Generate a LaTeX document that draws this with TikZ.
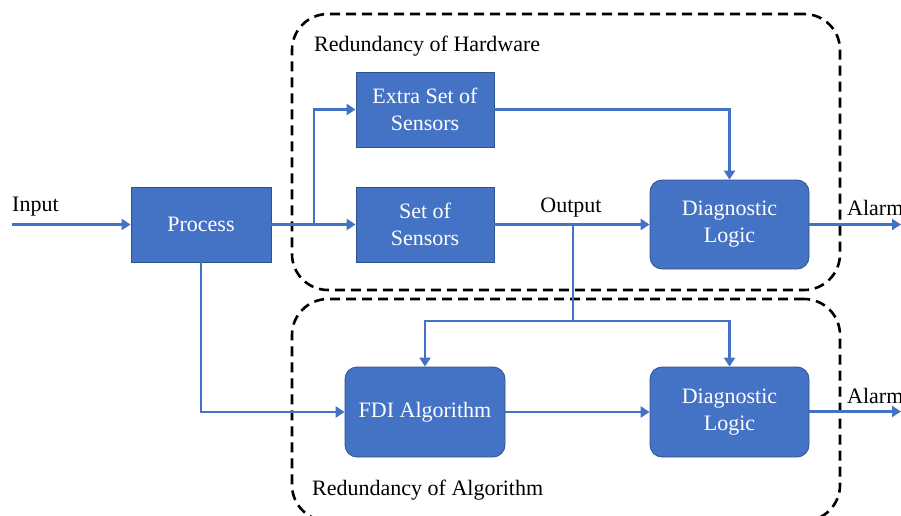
\documentclass[tikz,border=0pt]{standalone}
\usepackage{fontspec}
\setmainfont{Liberation Serif}
\usetikzlibrary{arrows.meta}
\definecolor{myblue}{HTML}{4472C4}
\definecolor{edgeblue}{HTML}{2F528F}
\tikzset{
  blk/.style={draw=edgeblue, line width=0.8pt, fill=myblue, text=white, align=center,
    font=\fontsize{22}{27}\selectfont, inner sep=0pt},
  sqb/.style={blk, minimum width=138pt, minimum height=75pt},
  rnd/.style={blk, rounded corners=12pt, minimum width=159pt, minimum height=89pt},
  lbl/.style={font=\fontsize{22}{26}\selectfont, inner sep=0pt},
  wire/.style={draw=myblue, line width=2.6pt},
  arr/.style={wire, -{Triangle[length=9pt,width=11pt]}},
  grp/.style={draw=black, line width=2.6pt, dash pattern=on 10pt off 6pt, rounded corners=36pt,
    minimum width=548pt, inner sep=0pt},
}
\begin{document}
\begin{tikzpicture}[x=1pt,y=-1pt]
\useasboundingbox (0,0) rectangle (901,516);
\clip (0,0) rectangle (901,516);
% group boxes
\node[grp, minimum height=276pt] (hw) at (566,152) {};
\node[grp, minimum height=222pt] (alg) at (566,410) {};
\node[lbl, anchor=west] (hwl) at (314,46) {Redundancy of Hardware};
\node[lbl, anchor=west] (algl) at (312,490) {Redundancy of Algorithm};
% blocks
\node[sqb, minimum width=140pt] (proc) at (201,224.5) {Process};
\node[sqb] (extra) at (425,109.5) {Extra Set of\\Sensors};
\node[sqb] (sens) at (425,224.5) {Set of\\Sensors};
\node[rnd] (diag1) at (729.5,224.5) {Diagnostic\\Logic};
\node[rnd, minimum width=160pt, minimum height=90pt] (fdi) at (425,412) {FDI Algorithm};
\node[rnd, minimum height=90pt] (diag2) at (729.5,412) {Diagnostic\\Logic};
% labels
\node[lbl, anchor=west] (inl) at (12,207) {Input};
\node[lbl] (outl) at (571,208) {Output};
\node[lbl, anchor=west] (al1) at (847,208) {Alarm};
\node[lbl, anchor=west] (al2) at (847,396) {Alarm};
% coordinates
\coordinate (in) at (12,224.5);
\coordinate (br1) at (314,224.5);
\coordinate (br2) at (573,224.5);
\coordinate (j) at (573,321);
\coordinate (o1) at (901,224.5);
\coordinate (o2) at (901,411.5);
% connectors
\draw[arr] (in) -- (proc.west);
\draw[arr] (proc.east) -- (sens.west);
\draw[arr] (br1) |- (extra.west);
\draw[arr] (extra.east) -| (diag1.north);
\draw[arr] (sens.east) -- (diag1.west);
\draw[wire] (br2) -- (j);
\draw[arr] (j) -| (fdi.north);
\draw[arr] (j) -| (diag2.north);
\draw[arr] (proc.south) |- (fdi.west);
\draw[arr] (fdi.east) -- (diag2.west);
\draw[arr] (diag1.east) -- (o1);
\draw[arr] (diag2.east |- o2) -- (o2);
\end{tikzpicture}
\end{document}
